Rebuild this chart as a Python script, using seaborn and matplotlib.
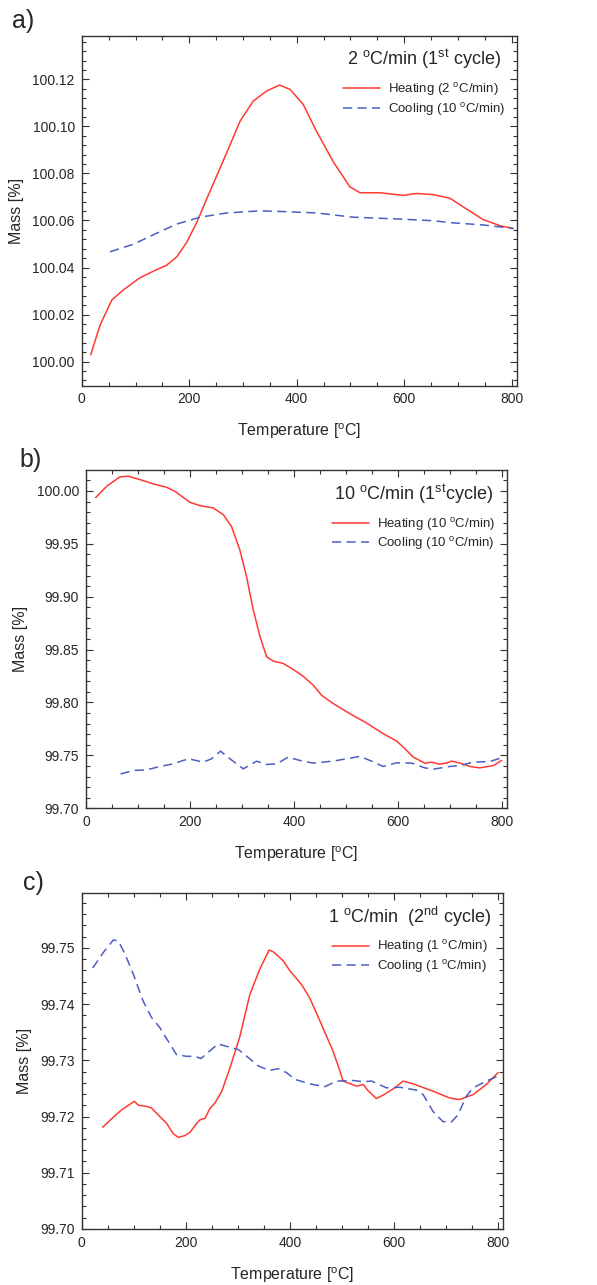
import numpy as np
import pandas as pd
import seaborn as sns
import matplotlib.pyplot as plt
from matplotlib.ticker import MultipleLocator, AutoMinorLocator, FormatStrFormatter

# Panel a) 2 C/min, 1st cycle
a_heat_T = [16.7, 34, 56, 77.5, 108, 133, 158, 177, 195, 214, 232.5, 257, 276, 294.5, 319, 344,
            368, 387.5, 412, 437, 468, 499, 518, 555, 598, 623, 654, 685, 716, 747, 778, 803]
a_heat_m = [100.0029, 100.0155, 100.0262, 100.0305, 100.0356, 100.0384, 100.0410, 100.0446,
            100.0506, 100.0592, 100.0692, 100.0821, 100.0922, 100.1022, 100.1108, 100.1151,
            100.1176, 100.1158, 100.1094, 100.0979, 100.0850, 100.0743, 100.0718, 100.0718,
            100.0707, 100.0715, 100.0710, 100.0695, 100.0649, 100.0604, 100.0578, 100.0566]
a_cool_T = [52.7, 96, 139.5, 177, 220, 270, 332, 375, 437, 505, 592, 654, 685, 747, 803]
a_cool_m = [100.0467, 100.0499, 100.0546, 100.0585, 100.0614, 100.0632, 100.0641, 100.0638,
            100.0632, 100.0614, 100.0606, 100.0599, 100.0591, 100.0581, 100.0566]

# Panel b) 10 C/min, 1st cycle
b_heat_T = [18.6, 39.8, 65.4, 81.5, 104, 129.6, 155, 171, 200, 219.4, 245, 264.3, 280, 296, 309,
            322, 334.9, 347.7, 360.5, 379.8, 399, 418, 437.5, 453.5, 476, 508, 540, 572, 598,
            610.7, 629.9, 652, 665, 681, 694, 703.7, 719.8, 739, 758, 784, 800]
b_heat_m = [99.9937, 100.0044, 100.0133, 100.0139, 100.0107, 100.0066, 100.0035, 99.9997,
            99.9893, 99.9861, 99.9839, 99.9776, 99.9665, 99.9444, 99.9191, 99.8875, 99.8622,
            99.8432, 99.8391, 99.8369, 99.8312, 99.8248, 99.8163, 99.8068, 99.7989, 99.7894,
            99.7806, 99.7705, 99.7635, 99.7578, 99.7483, 99.7427, 99.7436, 99.7417, 99.7427,
            99.7446, 99.7427, 99.7395, 99.7382, 99.7404, 99.7452]
b_cool_T = [66.7, 91, 116.7, 142.4, 168, 197, 225.8, 241.8, 259, 277, 302.8, 328.4, 347.7, 367,
            389, 411.8, 437.5, 476, 501.6, 527, 546.6, 572, 598, 627, 652, 669, 700, 720, 745,
            777, 800]
b_cool_m = [99.7325, 99.7357, 99.7363, 99.7395, 99.7420, 99.7468, 99.7436, 99.7468, 99.7540,
            99.7468, 99.7373, 99.7445, 99.7414, 99.7420, 99.7483, 99.7452, 99.7427, 99.7446,
            99.7468, 99.7490, 99.7452, 99.7395, 99.7430, 99.7427, 99.7382, 99.7370, 99.7395,
            99.7404, 99.7436, 99.7442, 99.7477]

# Panel c) 1 C/min, 2nd cycle
c_heat_T = [40.3, 60.8, 76.8, 89.6, 101, 109, 125, 134, 150, 163, 176, 185.6, 198, 208, 217.6,
            227, 237, 246, 256, 269, 285, 304, 323, 342, 360, 368, 387, 400, 422, 438, 457.6,
            483, 496, 502, 528, 541, 550, 566, 579, 601.6, 617.6, 637, 675, 707, 726, 752,
            777.6, 800]
c_heat_m = [99.7181, 99.7199, 99.7212, 99.7220, 99.7227, 99.7220, 99.7218, 99.7215, 99.7200,
            99.7188, 99.7169, 99.7163, 99.7166, 99.7172, 99.7184, 99.7194, 99.7197, 99.7214,
            99.7224, 99.7245, 99.7287, 99.7343, 99.7417, 99.7462, 99.7496, 99.7493, 99.7477,
            99.7459, 99.7435, 99.7411, 99.7370, 99.7316, 99.7281, 99.7263, 99.7254, 99.7257,
            99.7246, 99.7232, 99.7238, 99.7251, 99.7263, 99.7258, 99.7245, 99.7233, 99.7230,
            99.7239, 99.7257, 99.7278]
c_cool_T = [21, 41.6, 60.8, 70.4, 83, 99, 118, 134, 150, 166, 182, 201.6, 217.6, 229, 240, 262,
            285, 301, 317, 339, 360, 377.6, 393.6, 409.6, 438, 467, 490, 521.6, 541, 557,
            585.6, 611, 643, 656, 675, 694, 710, 723, 739, 752, 777.6, 800]
c_cool_m = [99.7464, 99.7492, 99.7514, 99.7512, 99.7489, 99.7453, 99.7405, 99.7376, 99.7358,
            99.7334, 99.7310, 99.7307, 99.7307, 99.7303, 99.7312, 99.7329, 99.7323, 99.7319,
            99.7307, 99.7290, 99.7282, 99.7285, 99.7278, 99.7266, 99.7258, 99.7253, 99.7263,
            99.7264, 99.7262, 99.7263, 99.7251, 99.7252, 99.7247, 99.7239, 99.7209, 99.7191,
            99.7190, 99.7203, 99.7236, 99.7251, 99.7263, 99.7272]

titles = [r"2 $^{\mathrm{o}}$C/min (1$^{\mathrm{st}}$ cycle)",
          r"10 $^{\mathrm{o}}$C/min (1$^{\mathrm{st}}$cycle)",
          r"1 $^{\mathrm{o}}$C/min  (2$^{\mathrm{nd}}$ cycle)"]
heat_labels = [r"Heating (2 $^{\mathrm{o}}$C/min)", r"Heating (10 $^{\mathrm{o}}$C/min)",
               r"Heating (1 $^{\mathrm{o}}$C/min)"]
cool_labels = [r"Cooling (10 $^{\mathrm{o}}$C/min)", r"Cooling (10 $^{\mathrm{o}}$C/min)",
               r"Cooling (1 $^{\mathrm{o}}$C/min)"]
panel_tags = ["a)", "b)", "c)"]

sns.set_style("ticks")
plt.rcParams['font.family'] = ['Liberation Sans', 'DejaVu Sans']
plt.rcParams['mathtext.fontset'] = 'custom'
plt.rcParams['mathtext.rm'] = 'Liberation Sans'
plt.rcParams['mathtext.it'] = 'Liberation Sans:italic'

RED = "#ff3a33"
BLUE = "#4a5fc1"

fig = plt.figure(figsize=(5.97, 12.85), dpi=100)
# left, bottom, width, height (fractions of figure)
boxes = [[0.137, 0.700, 0.729, 0.272],
         [0.144, 0.371, 0.705, 0.263],
         [0.137, 0.0436, 0.706, 0.2617]]
ylims = [(99.9898, 100.1385), (99.70, 100.0195), (99.70, 99.7598)]
ymajor = [0.02, 0.05, 0.01]
tag_pos = [(0.02, 0.984), (0.033, 0.642), (0.038, 0.313)]

data = [(a_heat_T, a_heat_m, a_cool_T, a_cool_m),
        (b_heat_T, b_heat_m, b_cool_T, b_cool_m),
        (c_heat_T, c_heat_m, c_cool_T, c_cool_m)]

for i, (hT, hm, cT, cm) in enumerate(data):
    ax = fig.add_axes(boxes[i])
    heat = pd.DataFrame({"T": hT, "m": hm})
    cool = pd.DataFrame({"T": cT, "m": cm})
    sns.lineplot(ax=ax, x="T", y="m", data=heat, color=RED, lw=1.1, label=heat_labels[i],
                 estimator=None, sort=False)
    sns.lineplot(ax=ax, x="T", y="m", data=cool, color=BLUE, lw=1.1, label=cool_labels[i],
                 estimator=None, sort=False, linestyle=(0, (6, 3.5)))
    ax.set_xlim(0, 810)
    ax.set_ylim(*ylims[i])
    ax.xaxis.set_major_locator(MultipleLocator(200))
    ax.xaxis.set_minor_locator(AutoMinorLocator(4))
    ax.yaxis.set_major_locator(MultipleLocator(ymajor[i]))
    ax.yaxis.set_minor_locator(AutoMinorLocator(5))
    ax.yaxis.set_major_formatter(FormatStrFormatter('%.2f'))
    ax.tick_params(which='both', direction='in', top=True, right=True, labelsize=10,
                   color='#333333', width=0.8)
    ax.tick_params(which='major', length=5, pad=5)
    ax.tick_params(which='minor', length=3)
    for s in ax.spines.values():
        s.set_color('#333333')
        s.set_linewidth(1.0)
    ax.set_xlabel(r"Temperature [$^{\mathrm{o}}$C]", fontsize=11.5, labelpad=11)
    ax.set_ylabel("Mass [%]", fontsize=11.5, labelpad=6)
    leg = ax.legend(loc='upper right', frameon=False, title=titles[i], fontsize=9.5,
                    title_fontsize=13, handlelength=2.8, handletextpad=0.6,
                    labelspacing=0.2, borderaxespad=0.5)
    leg._legend_box.sep = 7
    fig.text(tag_pos[i][0], tag_pos[i][1], panel_tags[i], fontsize=18, va='center', ha='left')

plt.savefig("out.png", dpi=100)
